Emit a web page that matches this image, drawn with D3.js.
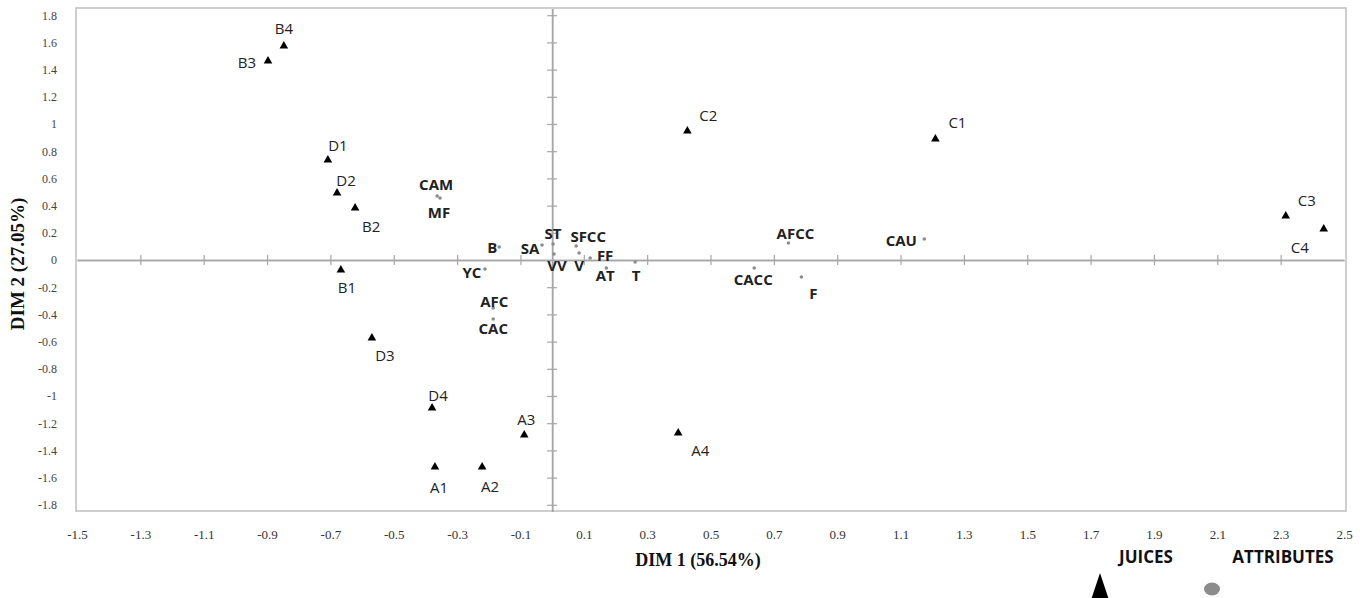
<!DOCTYPE html>
<html>
<head>
<meta charset="utf-8">
<script src="https://cdn.jsdelivr.net/npm/d3@7"></script>
<style>
  body { margin: 0; background: #fff; }
  svg { display: block; }
</style>
</head>
<body>
<svg id="chart" width="1360" height="598"></svg>
<script>
// juices (triangles)
const juiceNames = ["B4", "B3", "D1", "D2", "B2", "B1", "D3", "D4", "A1", "A2", "A3", "A4", "C2", "C1", "C3", "C4"];
const juiceDim1 = [-0.847, -0.897, -0.708, -0.679, -0.622, -0.667, -0.569, -0.379, -0.370, -0.221, -0.088, 0.398, 0.427, 1.210, 2.316, 2.436];
const juiceDim2 = [1.574, 1.463, 0.735, 0.493, 0.382, -0.074, -0.574, -1.088, -1.522, -1.522, -1.287, -1.272, 0.949, 0.890, 0.324, 0.228];

// attributes (grey dots)
const attrNames = ["CAM", "MF", "B", "SA", "ST", "VV", "SFCC", "V", "FF", "AT", "T", "YC", "AFC", "CAC", "AFCC", "CACC", "F", "CAU"];
const attrDim1 = [-0.363, -0.354, -0.167, -0.032, 0.003, 0.006, 0.076, 0.085, 0.120, 0.171, 0.262, -0.212, -0.186, -0.186, 0.746, 0.638, 0.787, 1.175];
const attrDim2 = [0.471, 0.456, 0.096, 0.110, 0.118, 0.044, 0.103, 0.051, 0.015, -0.059, -0.015, -0.066, -0.353, -0.434, 0.125, -0.059, -0.125, 0.154];

const xTickValues = [-1.5, -1.3, -1.1, -0.9, -0.7, -0.5, -0.3, -0.1, 0.1, 0.3, 0.5, 0.7, 0.9, 1.1, 1.3, 1.5, 1.7, 1.9, 2.1, 2.3, 2.5];
const yTickValues = [-1.8, -1.6, -1.4, -1.2, -1, -0.8, -0.6, -0.4, -0.2, 0, 0.2, 0.4, 0.6, 0.8, 1, 1.2, 1.4, 1.6, 1.8];

const xTitle = "DIM 1 (56.54%)";
const yTitle = "DIM 2 (27.05%)";
const legendNames = ["JUICES", "ATTRIBUTES"];

// where each label sits relative to its point (label centre, px)
const labelNudge = {
  B4: [0, -18], B3: [-21, 1], D1: [10, -15], D2: [9, -13], B2: [16, 18], B1: [6, 17],
  D3: [13, 17], D4: [6, -13], A1: [4, 20], A2: [8, 19], A3: [2, -16], A4: [22, 17],
  C2: [21, -16], C1: [22, -17], C3: [21, -16], C4: [-24, 18],
  CAM: [-1, -12], MF: [-1, 14], B: [-7, 0], SA: [-12, 3], ST: [0, -11], VV: [3, 11],
  SFCC: [12, -10], V: [0, 12], FF: [15, -3], AT: [-1, 7], T: [1, 13], YC: [-13, 3],
  AFC: [1, -7], CAC: [0, 9], AFCC: [7, -10], CACC: [-1, 11], F: [12, 16], CAU: [-23, 1]
};

const svg = d3.select("#chart");
const box = { left: 76, right: 1346, top: 8, bottom: 511 };

const x = d3.scaleLinear().domain([-1.5, 2.5]).range([77, 1344]);
const y = d3.scaleLinear().domain([-1.85, 1.85]).range([511.6, 8.4]);

const fmt = v => String(+v.toFixed(1));

// plot frame
svg.append("rect")
  .attr("x", box.left).attr("y", box.top)
  .attr("width", box.right - box.left).attr("height", box.bottom - box.top)
  .attr("fill", "none").attr("stroke", "#bfbfbf").attr("stroke-width", 1.5);

// axes through the origin, ticks crossing both sides
const innerX = xTickValues.filter(v => v > -1.5 && v < 2.5);
const innerY = yTickValues.filter(v => v !== 0);

function styleAxis(g) {
  g.select(".domain").attr("stroke", "#a6a6a6").attr("stroke-width", 1.5);
  g.selectAll(".tick line").attr("stroke", "#a6a6a6").attr("stroke-width", 1.2);
  g.selectAll(".tick text").remove();
}

svg.append("g").attr("transform", `translate(0,${y(0)})`)
  .call(d3.axisBottom(x).tickValues(innerX).tickSizeInner(5).tickSizeOuter(0))
  .call(styleAxis);
svg.append("g").attr("transform", `translate(0,${y(0)})`)
  .call(d3.axisTop(x).tickValues(innerX).tickSizeInner(5).tickSizeOuter(0))
  .call(styleAxis);
svg.append("g").attr("transform", `translate(${x(0)},0)`)
  .call(d3.axisLeft(y).tickValues(innerY).tickSizeInner(5).tickSizeOuter(0))
  .call(styleAxis);
svg.append("g").attr("transform", `translate(${x(0)},0)`)
  .call(d3.axisRight(y).tickValues(innerY).tickSizeInner(5).tickSizeOuter(0))
  .call(styleAxis);

// tick labels outside the frame
const xLab = svg.append("g").attr("transform", `translate(0,527)`)
  .call(d3.axisBottom(x).tickValues(xTickValues).tickFormat(fmt).tickSize(0));
xLab.select(".domain").remove();
xLab.selectAll("text")
  .attr("font-family", "'Liberation Serif', 'Times New Roman', serif")
  .attr("font-size", 13).attr("fill", "#333");

const yLab = svg.append("g").attr("transform", `translate(60,0)`)
  .call(d3.axisLeft(y).tickValues(yTickValues).tickFormat(fmt).tickSize(0));
yLab.select(".domain").remove();
yLab.selectAll("text")
  .attr("font-family", "'Liberation Serif', 'Times New Roman', serif")
  .attr("font-size", 12).attr("fill", "#444");

// axis titles
svg.append("text")
  .attr("x", 698).attr("y", 566)
  .attr("text-anchor", "middle")
  .attr("font-family", "'Liberation Serif', 'Times New Roman', serif")
  .attr("font-weight", "bold").attr("font-size", 18).attr("fill", "#111")
  .text(xTitle);

svg.append("text")
  .attr("transform", "translate(24,264) rotate(-90)")
  .attr("text-anchor", "middle")
  .attr("font-family", "'Liberation Serif', 'Times New Roman', serif")
  .attr("font-weight", "bold").attr("font-size", 19).attr("fill", "#111")
  .text(yTitle);

// data
const juices = juiceNames.map((n, i) => ({ name: n, d1: juiceDim1[i], d2: juiceDim2[i] }));
const attrs = attrNames.map((n, i) => ({ name: n, d1: attrDim1[i], d2: attrDim2[i] }));

const tri = d3.symbol().type(d3.symbolTriangle).size(32);

svg.append("g").selectAll("path")
  .data(juices).join("path")
  .attr("d", tri)
  .attr("transform", d => `translate(${x(d.d1)},${y(d.d2)})`)
  .attr("fill", "#000");

svg.append("g").selectAll("circle")
  .data(attrs).join("circle")
  .attr("cx", d => x(d.d1)).attr("cy", d => y(d.d2))
  .attr("r", 1.8).attr("fill", "#8c8c8c");

svg.append("g").selectAll("text")
  .data(juices).join("text")
  .attr("x", d => x(d.d1) + labelNudge[d.name][0])
  .attr("y", d => y(d.d2) + labelNudge[d.name][1])
  .attr("text-anchor", "middle").attr("dominant-baseline", "central")
  .attr("font-family", "'Open Sans', sans-serif")
  .attr("font-size", 15).attr("fill", "#222")
  .text(d => d.name);

svg.append("g").selectAll("text")
  .data(attrs).join("text")
  .attr("x", d => x(d.d1) + labelNudge[d.name][0])
  .attr("y", d => y(d.d2) + labelNudge[d.name][1])
  .attr("text-anchor", "middle").attr("dominant-baseline", "central")
  .attr("font-family", "'Open Sans', sans-serif")
  .attr("font-weight", "bold").attr("font-size", 15).attr("fill", "#222")
  .text(d => d.name);

// legend
const lg = svg.append("g");
lg.append("text").attr("x", 1146).attr("y", 563).attr("text-anchor", "middle")
  .attr("font-family", "'Open Sans', sans-serif").attr("font-weight", "bold")
  .attr("font-size", 17).attr("fill", "#111").text(legendNames[0]);
lg.append("text").attr("x", 1283).attr("y", 563).attr("text-anchor", "middle")
  .attr("font-family", "'Open Sans', sans-serif").attr("font-weight", "bold")
  .attr("font-size", 17).attr("fill", "#111").text(legendNames[1]);
lg.append("path")
  .attr("d", d3.line()([[1100, 573], [1091, 600], [1109, 600]]) + "Z")
  .attr("fill", "#000");
lg.append("ellipse").attr("cx", 1212).attr("cy", 589).attr("rx", 8).attr("ry", 6.5)
  .attr("fill", "#8c8c8c");
</script>
</body>
</html>
